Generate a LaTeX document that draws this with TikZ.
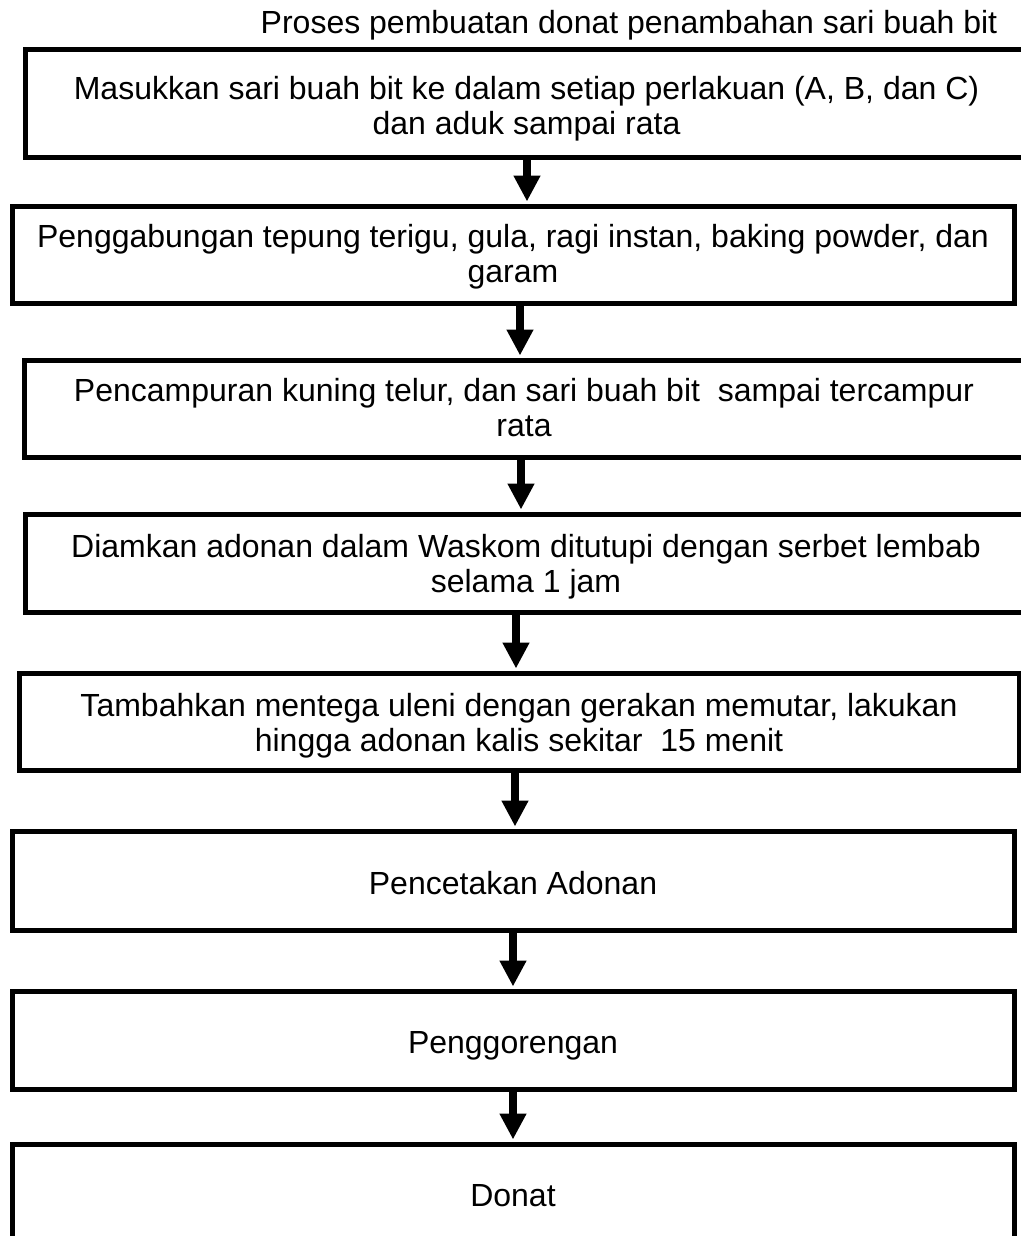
\documentclass[tikz,border=0pt]{standalone}
\usepackage{fontspec}
\setmainfont{Liberation Sans}
\usetikzlibrary{arrows.meta,calc}
\newcommand{\lowtxt}[2]{\raisebox{-#1}[\height][\depth]{\begin{tabular}{@{}c@{}}#2\end{tabular}}}
\begin{document}
\begin{tikzpicture}[x=0.75pt,y=-0.75pt,
  txt/.style={font=\fontsize{24}{26.25}\selectfont,inner sep=0pt,align=center},
  stepbox/.style={txt,draw=black,line width=3.75pt,rectangle,fill=white,minimum width=751.5pt,minimum height=73pt},
  flowarrow/.style={line width=6pt,-{Triangle[width=19pt,length=19.5pt]},shorten >=1.5pt}]
\useasboundingbox (0,0) rectangle (1021,1236);
\clip (0,0) rectangle (1021,1236);
\fill[white] (0,0) rectangle (1021,1236);

\node[txt] (title) at (629,25) {Proses pembuatan donat penambahan sari buah bit};

\node[stepbox,minimum width=752.25pt,minimum height=81pt] (b1) at (526.5,103)
  {\lowtxt{5.25pt}{Masukkan sari buah bit ke dalam setiap perlakuan (A, B, dan C)\\dan aduk sampai rata}};
\node[stepbox,minimum height=72.75pt] (b2) at (513,254.5)
  {\lowtxt{2.6pt}{Penggabungan tepung terigu, gula, ragi instan, baking powder, dan\\garam}};
\node[stepbox,minimum width=750pt,minimum height=72.75pt] (b3) at (524,408.5)
  {\lowtxt{2.6pt}{Pencampuran kuning telur, dan sari buah bit~ sampai tercampur\\rata}};
\node[stepbox,minimum height=73.5pt] (b4) at (526,563)
  {\lowtxt{4pt}{Diamkan adonan dalam Waskom ditutupi dengan serbet lembab\\selama 1 jam}};
\node[stepbox,minimum width=750pt,minimum height=72.75pt] (b5) at (519,721.5)
  {\lowtxt{3.75pt}{Tambahkan mentega uleni dengan gerakan memutar, lakukan\\hingga adonan kalis sekitar~ 15 menit}};
\node[stepbox,minimum height=74.25pt] (b6) at (513,880.5) {\lowtxt{5.25pt}{Pencetakan Adonan}};
\node[stepbox,minimum height=73.5pt] (b7) at (513,1040) {\lowtxt{4.5pt}{Penggorengan}};
\node[stepbox,minimum height=73.5pt] (b8) at (513,1193) {\lowtxt{4.5pt}{Donat}};

\draw[flowarrow] ($(b1.south)+(0.5,0)$) -- ($(b2.north)+(14,0)$);
\draw[flowarrow] ($(b2.south)+(7,0)$) -- ($(b3.north)+(-4,0)$);
\draw[flowarrow] ($(b3.south)+(-3,0)$) -- ($(b4.north)+(-5,0)$);
\draw[flowarrow] ($(b4.south)+(-10,0)$) -- ($(b5.north)+(-3,0)$);
\draw[flowarrow] ($(b5.south)+(-4,0)$) -- ($(b6.north)+(2,0)$);
\draw[flowarrow] (b6.south) -- (b7.north);
\draw[flowarrow] (b7.south) -- (b8.north);
\end{tikzpicture}
\end{document}
